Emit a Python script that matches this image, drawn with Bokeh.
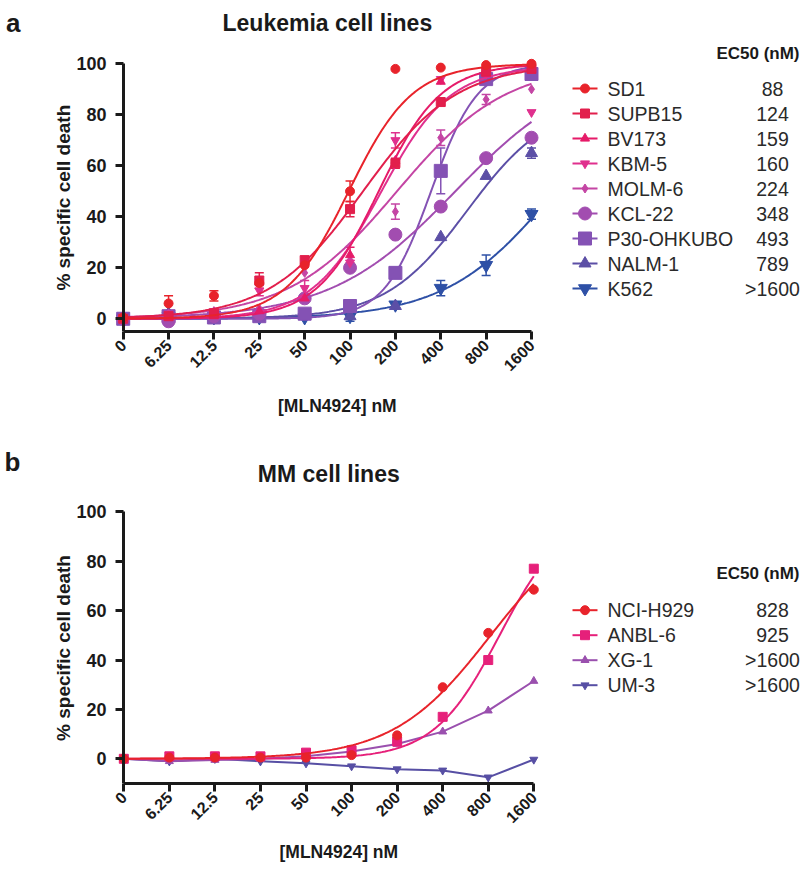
import math
import numpy as np
from bokeh.plotting import figure
from bokeh.models import ColumnDataSource, FixedTicker, Whisker, TeeHead, Label, LinearAxis, Title
from bokeh.layouts import column
from bokeh.embed import file_html
from bokeh.resources import INLINE
from bokeh.core.properties import value

FONT = "Liberation Sans"

# ---------------- data ----------------
conc_labels = ["0", "6.25", "12.5", "25", "50", "100", "200", "400", "800", "1600"]
conc_pos = list(range(len(conc_labels)))  # equally spaced (log2) positions
y_ticks = [0, 20, 40, 60, 80, 100]

# Panel a: leukemia cell lines
leuk_names = ["SD1", "SUPB15", "BV173", "KBM-5", "MOLM-6", "KCL-22", "P30-OHKUBO", "NALM-1", "K562"]
leuk_ec50 = ["88", "124", "159", "160", "224", "348", "493", "789", ">1600"]
leuk_colors = ["#E8232B", "#E21F4C", "#E61B69", "#E0308E", "#C445A4", "#A24DB0", "#8452B4", "#5C4FA6", "#2E50A6"]
leuk_markers = ["circle", "square", "triangle", "inverted_triangle", "diamond", "circle", "square", "triangle", "inverted_triangle"]
leuk_sizes = [9, 9, 9, 9, 9, 13, 13, 12, 13]

sd1 = [0.5, 6, 9, 14, 21, 50, 98, 98.5, 99.5, 100]
supb15 = [0, 1, 2, 15, 23, 43, 61, 85, 97, 98]
bv173 = [0, 1, 1, 3, 8, 25, 62, 93, 96, 99]
kbm5 = [0, 2, 3, 11, 12, 22, 70, 94, 96, 81]
molm6 = [0, 2, 3, 4, 18, 23, 42, 71, 86, 90]
kcl22 = [0, -1, 1, 2, 8, 20, 33, 44, 63, 71]
p30 = [0, 1, 0.5, 1, 2, 5, 18, 58, 94, 96]
nalm1 = [0, 2, 1, 0.5, 1, 1, 5, 32, 56, 65]
k562 = [0, 1, 0.5, 0.5, 0.5, 1, 5.5, 12, 21, 41]
leuk_values = [sd1, supb15, bv173, kbm5, molm6, kcl22, p30, nalm1, k562]

sd1_err = [0, 3, 2, 0, 0, 4, 0, 0, 0, 0]
supb15_err = [0, 0, 0, 3, 0, 3, 2, 0, 0, 0]
bv173_err = [0, 0, 0, 0, 0, 3, 0, 0, 0, 0]
kbm5_err = [0, 0, 0, 2, 3, 0, 3, 0, 0, 0]
molm6_err = [0, 0, 0, 0, 0, 0, 3, 3, 2, 0]
kcl22_err = [0, 0, 0, 0, 0, 0, 0, 0, 0, 0]
p30_err = [0, 0, 0, 0, 0, 0, 0, 9, 0, 0]
nalm1_err = [0, 0, 0, 0, 0, 0, 0, 0, 0, 2]
k562_err = [0, 0, 0, 0, 0, 2, 0, 3, 4, 2]
leuk_err = [sd1_err, supb15_err, bv173_err, kbm5_err, molm6_err, kcl22_err, p30_err, nalm1_err, k562_err]

# fitted sigmoid parameters
leuk_fit_ec50 = [98, 122, 155, 160, 205, 500, 345, 600, 2300]
leuk_fit_hill = [2.06, 1.4, 2.1, 1.9, 1.2, 1.05, 2.8, 1.6, 1.2]
leuk_fit_top = [100, 100, 100, 99, 100, 100, 100, 85, 100]

# Panel b: MM cell lines
mm_names = ["NCI-H929", "ANBL-6", "XG-1", "UM-3"]
mm_ec50 = ["828", "925", ">1600", ">1600"]
mm_colors = ["#E8232B", "#E6207A", "#9A50AE", "#574FA4"]
mm_markers = ["circle", "square", "triangle", "inverted_triangle"]
mm_sizes = [9, 9, 8, 8]

nci_h929 = [0, 0.5, 0.5, 0.5, 0.5, 1.5, 9.5, 29, 51, 68.5]
anbl6 = [0, 1, 1, 1, 2.5, 3.5, 7, 17, 40, 77]
xg1 = [0, -1, -0.5, 0, 1, 3, 6, 11, 19.5, 31.5]
um3 = [0, -1, 0, -1, -1.8, -3, -4.2, -4.7, -7.5, -0.3]
mm_values = [nci_h929, anbl6, xg1, um3]
mm_err = [[0] * 10, [0] * 10, [0] * 10, [0] * 10]

mm_fit_ec50 = [830, 950, None, None]
mm_fit_hill = [1.35, 2.0, None, None]
mm_fit_top = [100, 100, None, None]

# ---------------- layout constants (px inside each figure) ----------------
W = 800
FRAME_LEFT = 112
INK = "#1a1a1a"
TXT = "#2a2a2a"
YTITLE = "% specific cell death"
XTITLE = "[MLN4924] nM"


def make_panel(height, x0_px, x9_px, ytop_val, ytop_px, ybot_val, ybot_px,
               title, letter, title_py, letter_py, xtitle_standoff, leg_head_py, leg_row0_py,
               names, ec50, colors, markers, sizes, values, errs,
               fit_ec50, fit_hill, fit_top):
    xpu = (x9_px - x0_px) / 9.0
    ypu = (ybot_px - ytop_px) / float(ytop_val - ybot_val)
    mbb = int(round(height - ybot_px))
    x_start = (FRAME_LEFT - x0_px) / xpu
    x_end = (W - x0_px) / xpu
    y_start = ybot_val
    y_end = y_start + (height - mbb) / ypu

    def dx(px):
        return (px - x0_px) / xpu

    def dy(py):
        return ytop_val - (py - ytop_px) / ypu

    p = figure(width=W, height=height, x_range=(x_start, x_end), y_range=(y_start, y_end),
               output_backend="svg", toolbar_location=None, y_axis_location=None,
               min_border_left=FRAME_LEFT, min_border_right=0, min_border_top=0,
               min_border_bottom=mbb)
    p.outline_line_color = None
    p.grid.visible = False
    p.background_fill_color = "white"
    p.border_fill_color = "white"

    # x axis
    xa = p.xaxis[0]
    xa.ticker = FixedTicker(ticks=conc_pos)
    xa.major_label_overrides = {i: s for i, s in zip(conc_pos, conc_labels)}
    xa.bounds = (0, 9)
    xa.major_label_orientation = math.pi / 4
    xa.major_label_standoff = 3
    xa.major_label_text_font_size = "16px"

    # y axis: tick labels (normal axis at the frame edge)
    ya_lab = LinearAxis(ticker=FixedTicker(ticks=y_ticks))
    ya_lab.axis_line_color = None
    ya_lab.major_tick_line_color = None
    ya_lab.minor_tick_line_color = None
    ya_lab.major_tick_out = 0
    ya_lab.major_tick_in = 0
    ya_lab.major_label_standoff = FRAME_LEFT - 106
    ya_lab.major_label_text_font_size = "18px"
    p.add_layout(ya_lab, "left")

    # y axis: line and ticks sitting on x = 0
    ya_line = LinearAxis(ticker=FixedTicker(ticks=y_ticks), fixed_location=0,
                         bounds=(ybot_val, ytop_val))
    ya_line.major_label_overrides = {t: "" for t in y_ticks}
    ya_line.major_label_standoff = 0
    p.add_layout(ya_line, "left")

    for ax in (xa, ya_line):
        ax.axis_line_width = 3
        ax.axis_line_color = INK
        ax.major_tick_line_width = 3
        ax.major_tick_line_color = INK
        ax.major_tick_out = 8
        ax.major_tick_in = 0
        ax.minor_tick_line_color = None
    for ax in (xa, ya_lab, ya_line):
        ax.major_label_text_font = FONT
        ax.major_label_text_font_style = "bold"
        ax.major_label_text_color = INK

    # y axis title (left panel), centred on the drawn axis
    ymid_px = (ytop_px + ybot_px) / 2.0
    ytitle_len = 9.78 * 19
    frame_bottom = height - mbb
    p.add_layout(Title(text=YTITLE, align="left", vertical_align="bottom", standoff=0,
                       offset=frame_bottom - (ymid_px + ytitle_len / 2.0),
                       text_font=FONT, text_font_style="bold", text_font_size="19px",
                       text_color=INK), "left")

    # panel letter, as the single label of an outer left axis
    letter_ax = LinearAxis(ticker=FixedTicker(ticks=[dy(letter_py)]))
    letter_ax.major_label_overrides = {dy(letter_py): letter}
    letter_ax.axis_line_color = None
    letter_ax.major_tick_line_color = None
    letter_ax.minor_tick_line_color = None
    letter_ax.major_tick_out = 0
    letter_ax.major_tick_in = 0
    letter_ax.major_label_standoff = 30
    letter_ax.major_label_text_font = FONT
    letter_ax.major_label_text_font_style = "bold"
    letter_ax.major_label_text_font_size = "26px"
    letter_ax.major_label_text_color = INK
    p.add_layout(letter_ax, "left")

    # x axis title (below panel)
    xtitle_len = 6.778 * 17.5
    p.add_layout(Title(text=XTITLE, align="left", vertical_align="top",
                       standoff=xtitle_standoff,
                       offset=(x0_px + x9_px) / 2.0 + 10 - xtitle_len / 2.0 - FRAME_LEFT,
                       text_font=FONT, text_font_style="bold", text_font_size="17.5px",
                       text_color=INK), "below")

    # data
    xs = np.linspace(0, 9, 241)
    conc_cont = 3.125 * 2.0 ** xs
    n = len(names)
    for i in reversed(range(n)):
        c = colors[i]
        vals = values[i]
        if fit_ec50[i] is not None:
            yfit = fit_top[i] / (1.0 + (fit_ec50[i] / conc_cont) ** fit_hill[i])
            p.line(xs, yfit, line_color=c, line_width=2)
        else:
            p.line(conc_pos, vals, line_color=c, line_width=2)
        e = errs[i]
        ex = [conc_pos[k] for k in range(10) if e[k] > 0]
        if ex:
            src = ColumnDataSource(dict(
                x=ex,
                up=[vals[k] + e[k] for k in range(10) if e[k] > 0],
                lo=[vals[k] - e[k] for k in range(10) if e[k] > 0]))
            p.add_layout(Whisker(source=src, base="x", upper="up", lower="lo",
                                 dimension="height", line_color=c, line_width=1.5,
                                 upper_head=TeeHead(size=9, line_color=c, line_width=1.5),
                                 lower_head=TeeHead(size=9, line_color=c, line_width=1.5)))
        p.scatter(conc_pos, vals, marker=markers[i], size=sizes[i],
                  fill_color=c, line_color=c)

    # legend (drawn manually so that the EC50 column lines up)
    rows_y = [dy(leg_row0_py + 25 * k) for k in range(n)]
    p.segment(x0=[dx(572)] * n, y0=rows_y, x1=[dx(597)] * n, y1=rows_y,
              line_color=colors, line_width=2)
    p.scatter(x=[dx(584.5)] * n, y=rows_y, marker=markers, size=sizes,
              fill_color=colors, line_color=colors)
    p.text(x=[dx(607)] * n, y=rows_y, text=names, text_font=value(FONT),
           text_font_size="19.5px", text_baseline="middle", text_align="left",
           text_color=TXT)
    p.text(x=[dx(772)] * n, y=rows_y, text=ec50, text_font=value(FONT),
           text_font_size="19.5px", text_baseline="middle", text_align="center",
           text_color=TXT)
    p.add_layout(Label(x=dx(799), y=dy(leg_head_py), text="EC50 (nM)",
                       text_font=FONT, text_font_style="bold", text_font_size="17px",
                       text_align="right", text_baseline="middle", text_color=INK))

    # chart title (inside the frame area)
    p.add_layout(Label(x=4.5, y=dy(title_py), text=title, text_font=FONT,
                       text_font_style="bold", text_font_size="23px",
                       text_align="center", text_baseline="middle", text_color=INK))
    return p


pa = make_panel(height=440, x0_px=122.7, x9_px=531.0, ytop_val=100, ytop_px=63.3,
                ybot_val=-5, ybot_px=331.0,
                title="Leukemia cell lines", letter="a", title_py=22, letter_py=8,
                xtitle_standoff=33, leg_head_py=52.5, leg_row0_py=88,
                names=leuk_names, ec50=leuk_ec50, colors=leuk_colors, markers=leuk_markers,
                sizes=leuk_sizes, values=leuk_values, errs=leuk_err,
                fit_ec50=leuk_fit_ec50, fit_hill=leuk_fit_hill, fit_top=leuk_fit_top)

pb = make_panel(height=433, x0_px=123.3, x9_px=533.3, ytop_val=100, ytop_px=71.7,
                ybot_val=-10, ybot_px=343.3,
                title="MM cell lines", letter="b", title_py=34, letter_py=9,
                xtitle_standoff=20, leg_head_py=133, leg_row0_py=170,
                names=mm_names, ec50=mm_ec50, colors=mm_colors, markers=mm_markers,
                sizes=mm_sizes, values=mm_values, errs=mm_err,
                fit_ec50=mm_fit_ec50, fit_hill=mm_fit_hill, fit_top=mm_fit_top)

layout = column(pa, pb, spacing=0)
open("out.html", "w").write(file_html(layout, INLINE))
